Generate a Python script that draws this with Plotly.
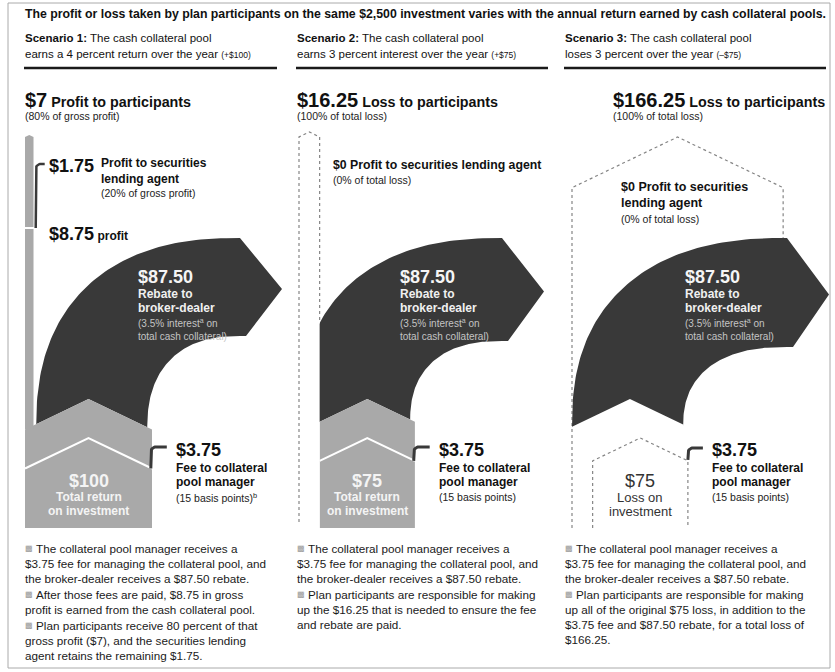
import numpy as np
import plotly.graph_objects as go

# ---------------- data ----------------
scenario_labels = ["Scenario 1:", "Scenario 2:", "Scenario 3:"]
scenario_line1 = ["The cash collateral pool", "The cash collateral pool", "The cash collateral pool"]
scenario_line2 = ["earns a 4 percent return over the year",
                  "earns 3 percent interest over the year",
                  "loses 3 percent over the year"]
total_return = [100.0, 75.0, -75.0]          # return / loss on the $2,500 pool
rebate = [87.50, 87.50, 87.50]               # rebate to broker-dealer
pool_fee = [3.75, 3.75, 3.75]                # fee to collateral pool manager
gross_result = [8.75, -16.25, -166.25]       # gross profit (+) or loss (-)
agent_profit = [1.75, 0.0, 0.0]              # profit to securities lending agent
participant_result = [7.0, -16.25, -166.25]  # profit (+) or loss (-) to participants
participant_share = ["80% of gross profit", "100% of total loss", "100% of total loss"]
agent_share = ["20% of gross profit", "0% of total loss", "0% of total loss"]
fee_basis_points = [15, 15, 15]
rebate_rate = [3.5, 3.5, 3.5]


def money(v):
    v = abs(v)
    return f"${v:,.0f}" if float(v).is_integer() else f"${v:,.2f}"


# ---------------- layout constants ----------------
W, H = 835, 672
FONT = "Liberation Sans, Arial, sans-serif"
K = 1.27                      # px per dollar
PANEL_LEFT = [25.0, 299.0, 572.0]
TEXT_LEFT = [24, 296, 564]
RULE_RIGHT = [277, 548, 826]
HEAD_X = [24, 296, 612]
RING_CX = [240, 502, 787]
RING_TOP_OUT = 238
RING_TOP_IN = [336, 341, 347]
PEAK_Y = 399
SLOPE = 0.48
ROOF_GAP = 39
GROUND = 528
COL_TOP = [135, 132, 137]
PROFIT_Y = 228
HOOK_Y = 447
LIGHT = "#a9a9a9"
DARK = "#393939"
DOT = "#858585"

fig = go.Figure()


def poly(xs, ys, fill, line_color=None, width=0.0, dash=None):
    fig.add_trace(go.Scatter(x=list(xs), y=list(ys), mode="lines", fill="toself",
                             fillcolor=fill,
                             line=dict(color=line_color or fill, width=width, dash=dash),
                             hoverinfo="skip", showlegend=False))


def path(xs, ys, color, width, dash=None):
    fig.add_trace(go.Scatter(x=list(xs), y=list(ys), mode="lines",
                             line=dict(color=color, width=width, dash=dash),
                             hoverinfo="skip", showlegend=False))


def txt(x, y, s, size=11.0, color="#111", bold=False, anchor="left"):
    if bold:
        s = f"<b>{s}</b>"
    fig.add_annotation(x=x, y=y, xref="x", yref="y", text=s, showarrow=False,
                       xanchor=anchor, yanchor="middle", align=anchor, borderpad=0,
                       font=dict(size=size, color=color, family=FONT))


def big(s, size=18):
    return f"<span style='font-size:{size}px'>{s}</span>"


def hook(x, y_bottom, y_top, length, color=DARK, width=3):
    a = np.linspace(np.pi, np.pi / 2, 10)
    r = 5
    xs = [x, x] + list(x + r + r * np.cos(a)) + [x + length]
    ys = [y_bottom, y_top + r] + list(y_top + r - r * np.sin(a)) + [y_top]
    path(xs, ys, color, width)


N_EXP = 2.4

for i in range(3):
    g = gross_result[i]
    L = PANEL_LEFT[i]
    A = L + g * K if g > 0 else L
    Ai = A + rebate[i] * K
    R = Ai + pool_fee[i] * K
    base_l = R - total_return[i] * K if total_return[i] > 0 else A
    mid = (base_l + R) / 2

    def roof_y(x, mid=mid):
        return PEAK_Y + SLOPE * abs(x - mid)

    cy = roof_y(base_l)
    cx = RING_CX[i]
    top_in = RING_TOP_IN[i]

    rx_o = cx - A
    ry_o = cy - RING_TOP_OUT

    def outer_y_at(x):
        c = ((cx - x) / rx_o) ** (N_EXP / 2)
        t = np.arccos(np.clip(c, 0, 1))
        return cy - ry_o * np.sin(t) ** (2 / N_EXP)

    # ---- big dotted house for total loss (scenario 3) ----
    if total_return[i] < 0:
        hr = L + abs(g) * K
        hm = (L + hr) / 2
        sh = COL_TOP[i] + SLOPE * (hr - L) / 2
        path([L, L, hm, hr, hr], [GROUND, sh, COL_TOP[i], sh, outer_y_at(min(hr, cx - 0.01))],
             DOT, 1.2, "dot")

    # ---- rebate arrow ----
    t = np.linspace(0, np.pi / 2, 80)
    c = np.clip(np.cos(t), 0, 1) ** (2 / N_EXP)
    s = np.clip(np.sin(t), 0, 1) ** (2 / N_EXP)
    xo = cx - (cx - A) * c
    yo = cy - (cy - RING_TOP_OUT) * s
    xi = cx - (cx - Ai) * c
    yi = cy - (cy - top_in) * s
    xs = list(xo) + [cx + 42, cx + 6] + list(xi[::-1]) + [Ai, mid, A]
    ys = list(yo) + [(RING_TOP_OUT + top_in) / 2 + 2, top_in] + list(yi[::-1]) + \
         [roof_y(Ai), PEAK_Y, roof_y(A)]
    poly(xs, ys, DARK)

    # ---- house for positive total return ----
    if total_return[i] > 0:
        poly([base_l, base_l, mid, R, R], [GROUND, cy, PEAK_Y, cy, GROUND], LIGHT)
        path([base_l, mid, R], [cy + ROOF_GAP, PEAK_Y + ROOF_GAP, cy + ROOF_GAP], "white", 2)

    # ---- gross profit column (scenario 1) ----
    if g > 0:
        br = L + g * K - 2.6
        bm = (L + br) / 2
        sh = COL_TOP[i] + 2
        poly([L, L, bm, br, br], [cy, sh, COL_TOP[i], sh, cy], LIGHT)
        path([L - 1, br + 1], [PROFIT_Y, PROFIT_Y], "white", 2)
        hook(br + 2.2, PROFIT_Y, HOOK_Y - 283, 9, DARK, 2.5)

    # ---- loss column (scenario 2) ----
    if g < 0 and total_return[i] > 0:
        cr = L + abs(g) * K
        cm = (L + cr) / 2
        sh = COL_TOP[i] + SLOPE * (cr - L) / 2
        poly([L, L, cm, cr, cr], [GROUND, sh, COL_TOP[i], sh, GROUND], "white")
        path([L, L, cm, cr, cr], [GROUND - 6, sh, COL_TOP[i], sh, outer_y_at(cr)], DOT, 1.2, "dot")

    # ---- inner dotted house for loss on investment (scenario 3) ----
    if total_return[i] < 0:
        il = R - abs(total_return[i]) * K
        im = (il + R) / 2
        ipk = PEAK_Y + ROOF_GAP
        ish = ipk + SLOPE * (R - il) / 2
        path([il, il, im, R, R], [GROUND, ish, ipk, ish, GROUND], DOT, 1.2, "dot")
        txt(im, GROUND - 47, money(total_return[i]), 18, "#333", anchor="center")
        txt(im, GROUND - 31, "Loss on", 13, "#333", anchor="center")
        txt(im, GROUND - 17, "investment", 13, "#333", anchor="center")
        hook(R, ish - 1, HOOK_Y + 1, 15)
    else:
        hook(R - 1.2, cy + ROOF_GAP, HOOK_Y, 16)
        hcx = (base_l + R) / 2
        txt(hcx, GROUND - 47, money(total_return[i]), 18, "#f4f4f4", True, "center")
        txt(hcx, GROUND - 31, "Total return", 12, "#f4f4f4", True, "center")
        txt(hcx, GROUND - 17, "on investment", 12, "#f4f4f4", True, "center")

    # ---- arrow texts ----
    ax = cx - 103
    txt(ax, 277, money(rebate[i]), 18, "#f5f5f5", True)
    txt(ax, 294, "Rebate to", 12, "#f0f0f0", True)
    txt(ax, 308, "broker-dealer", 12, "#f0f0f0", True)
    txt(ax, 323, f"({rebate_rate[i]}% interest<sup>a</sup> on", 10, "#c4c4c4")
    txt(ax, 336, "total cash collateral)", 10, "#c4c4c4")

    # ---- fee texts ----
    fx = R + 23
    txt(fx, 450, money(pool_fee[i]), 18, "#111", True)
    txt(fx, 468, "Fee to collateral", 12, "#111", True)
    txt(fx, 482, "pool manager", 12, "#111", True)
    sup = "<sup>b</sup>" if i == 0 else ""
    txt(fx, 497, f"({fee_basis_points[i]} basis points){sup}", 10.5, "#222")

    # ---- headers ----
    tl = TEXT_LEFT[i]
    txt(tl, 38, f"<b>{scenario_labels[i]}</b> {scenario_line1[i]}", 11.5, "#111")
    sign = "+" if total_return[i] > 0 else "\u2013"
    txt(tl, 54, f"{scenario_line2[i]} <span style='font-size:8.5px'>({sign}{money(total_return[i])})</span>",
        11.5, "#111")
    fig.add_shape(type="line", x0=tl, x1=RULE_RIGHT[i], y0=68, y1=68,
                  line=dict(color="#1a1a1a", width=2.5))

    kind = "Profit" if participant_result[i] > 0 else "Loss"
    txt(HEAD_X[i], 100, f"{big(money(participant_result[i]), 20)} {kind} to participants", 14.3, "#111", True)
    txt(HEAD_X[i], 116, f"({participant_share[i]})", 10.5, "#222")

    # ---- agent texts ----
    if agent_profit[i] > 0:
        txt(48, 166, money(agent_profit[i]), 18, "#111", True)
        txt(100, 163, "Profit to securities", 12, "#111", True)
        txt(100, 179, "lending agent", 12, "#111", True)
        txt(100, 193, f"({agent_share[i]})", 10.5, "#222")
        txt(48, PROFIT_Y + 6, f"{big(money(g))} profit", 12, "#111", True)
    elif total_return[i] > 0:
        txt(L + 33, 165, f"{money(agent_profit[i])} Profit to securities lending agent", 12.3, "#111", True)
        txt(L + 33, 180, f"({agent_share[i]})", 10.5, "#222")
    else:
        txt(L + 48, 187, f"{money(agent_profit[i])} Profit to securities", 12.5, "#111", True)
        txt(L + 48, 203, "lending agent", 12.5, "#111", True)
        txt(L + 48, 219, f"({agent_share[i]})", 10.5, "#222")

# ---- notes ----
common = [("The collateral pool manager receives a", True),
          (f"{money(pool_fee[0])} fee for managing the collateral pool, and", False),
          (f"the broker-dealer receives a {money(rebate[0])} rebate.", False)]
notes = [
    [common,
     [(f"After those fees are paid, {money(gross_result[0])} in gross", True),
      ("profit is earned from the cash collateral pool.", False)],
     [("Plan participants receive 80 percent of that", True),
      (f"gross profit ({money(participant_result[0])}), and the securities lending", False),
      (f"agent retains the remaining {money(agent_profit[0])}.", False)]],
    [common,
     [("Plan participants are responsible for making", True),
      (f"up the {money(gross_result[1])} that is needed to ensure the fee", False),
      ("and rebate are paid.", False)]],
    [common,
     [("Plan participants are responsible for making", True),
      (f"up all of the original {money(total_return[2])} loss, in addition to the", False),
      (f"{money(pool_fee[2])} fee and {money(rebate[2])} rebate, for a total loss of", False),
      (f"{money(gross_result[2])}.", False)]],
]
for i, paras in enumerate(notes):
    y = 548
    for para in paras:
        for line, bullet in para:
            if bullet:
                txt(TEXT_LEFT[i], y, "\u25a9", 8, "#999")
                txt(TEXT_LEFT[i] + 11, y, line, 11.7, "#1a1a1a")
            else:
                txt(TEXT_LEFT[i], y, line, 11.7, "#1a1a1a")
            y += 15
        y += 1

# ---- title & frame ----
txt(24, 14, "The profit or loss taken by plan participants on the same $2,500 investment varies "
            "with the annual return earned by cash collateral pools.", 12.3, "#111", True)
fig.add_shape(type="rect", x0=8, x1=830, y0=3, y1=668, line=dict(color="#aaaaaa", width=1))

fig.update_layout(
    width=W, height=H, margin=dict(l=0, r=0, t=0, b=0),
    paper_bgcolor="white", plot_bgcolor="white",
    xaxis=dict(range=[0, W], visible=False, fixedrange=True),
    yaxis=dict(range=[H, 0], visible=False, fixedrange=True),
    showlegend=False,
)
fig.write_html("out.html", config={"displayModeBar": False, "staticPlot": True},
               post_script="document.body.style.margin='0';document.body.style.overflow='hidden';")
